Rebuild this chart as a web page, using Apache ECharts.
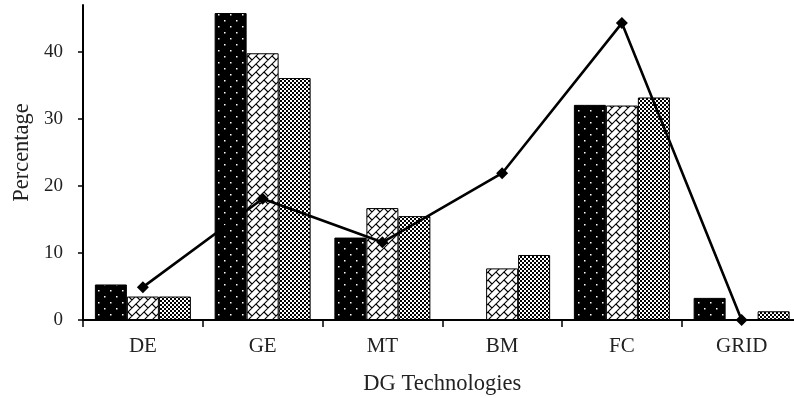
<!DOCTYPE html>
<html><head><meta charset="utf-8">
<script src="https://cdn.jsdelivr.net/npm/echarts@6/dist/echarts.min.js"></script>
<style>html,body{margin:0;padding:0;background:#fff}#c{width:794px;height:398px}</style>
</head><body><div id="c"></div>
<script>
const categories = ['DE','GE','MT','BM','FC','GRID'];
const seriesA = [5.3, 45.8, 12.3, 0, 32.1, 3.3];
const seriesB = [3.5, 39.8, 16.7, 7.7, 32.0, 0];
const seriesC = [3.5, 36.1, 15.5, 9.7, 33.2, 1.3];
const lineVals = [4.9, 18.1, 11.6, 21.9, 44.3, 0];
const yTicks = [0, 10, 20, 30, 40];

function makeTile(w, h, draw) {
  const c = document.createElement('canvas');
  c.width = w; c.height = h;
  const ctx = c.getContext('2d');
  draw(ctx);
  return c;
}
const dotTile = makeTile(12, 12, ctx => {
  ctx.fillStyle = '#000'; ctx.fillRect(0, 0, 12, 12);
  ctx.fillStyle = '#fff';
  ctx.fillRect(2, 2, 1.5, 1.5);
  ctx.fillRect(8, 8, 1.5, 1.5);
});
const brickTile = makeTile(16, 16, ctx => {
  ctx.fillStyle = '#fff'; ctx.fillRect(0, 0, 16, 16);
  ctx.strokeStyle = '#000'; ctx.lineWidth = 1.1;
  ctx.beginPath();
  for (let s = -16; s <= 48; s += 8) { ctx.moveTo(s + 8, -8); ctx.lineTo(s - 24, 24); }
  for (let k = -4; k <= 6; k++) {
    for (let m = -3; m <= 3; m++) {
      const d = 16 * m + ((k % 2 + 2) % 2 ? 8 : 0);
      const s0 = 8 * k, s1 = 8 * k + 8;
      ctx.moveTo((s0 + d) / 2, (s0 - d) / 2);
      ctx.lineTo((s1 + d) / 2, (s1 - d) / 2);
    }
  }
  ctx.stroke();
});
const checkTile = makeTile(4, 4, ctx => {
  ctx.fillStyle = '#fff'; ctx.fillRect(0, 0, 4, 4);
  ctx.fillStyle = '#000';
  ctx.fillRect(0, 0, 2, 2);
  ctx.fillRect(2, 2, 2, 2);
});

const font = 'Liberation Serif';
const chart = echarts.init(document.getElementById('c'), null, {renderer: 'canvas'});
const barBase = {type: 'bar', barWidth: 32, barGap: '0%', animation: false};
chart.setOption({
  animation: false,
  grid: {left: 83, top: 5, bottom: 78, right: -7.5, containLabel: false, outerBoundsMode: 'none'},
  xAxis: {
    type: 'category', data: categories,
    name: 'DG Technologies', nameLocation: 'middle', nameGap: 53,
    nameTextStyle: {fontFamily: font, fontSize: 22.5, color: '#222'},
    axisLine: {lineStyle: {color: '#000', width: 2}},
    axisTick: {show: true, alignWithLabel: false, length: 7, lineStyle: {color: '#000', width: 1.5}},
    axisLabel: {fontFamily: font, fontSize: 21, color: '#222', margin: 16}
  },
  yAxis: {
    type: 'value', min: 0, max: 47, interval: 10,
    name: 'Percentage', nameLocation: 'middle', nameGap: 47,
    nameTextStyle: {fontFamily: font, fontSize: 22.5, color: '#222', padding: [0, 0, 0, 20]},
    axisLine: {show: true, lineStyle: {color: '#000', width: 2}},
    axisTick: {show: true, length: 5, customValues: yTicks, lineStyle: {color: '#000', width: 1.5}},
    axisLabel: {fontFamily: font, fontSize: 19, color: '#222', margin: 20, customValues: yTicks},
    splitLine: {show: false}
  },
  series: [
    Object.assign({}, barBase, {name: 'A', data: seriesA, itemStyle: {color: {image: dotTile, repeat: 'repeat'}, borderColor: '#000', borderWidth: 1}}),
    Object.assign({}, barBase, {name: 'B', data: seriesB, itemStyle: {color: {image: brickTile, repeat: 'repeat'}, borderColor: '#000', borderWidth: 1}}),
    Object.assign({}, barBase, {name: 'C', data: seriesC, itemStyle: {color: {image: checkTile, repeat: 'repeat'}, borderColor: '#000', borderWidth: 1}}),
    {type: 'line', name: 'L', data: lineVals, z: 5, symbol: 'diamond', symbolSize: 12,
     lineStyle: {color: '#000', width: 2.6}, itemStyle: {color: '#000'}, animation: false}
  ]
});
</script></body></html>
